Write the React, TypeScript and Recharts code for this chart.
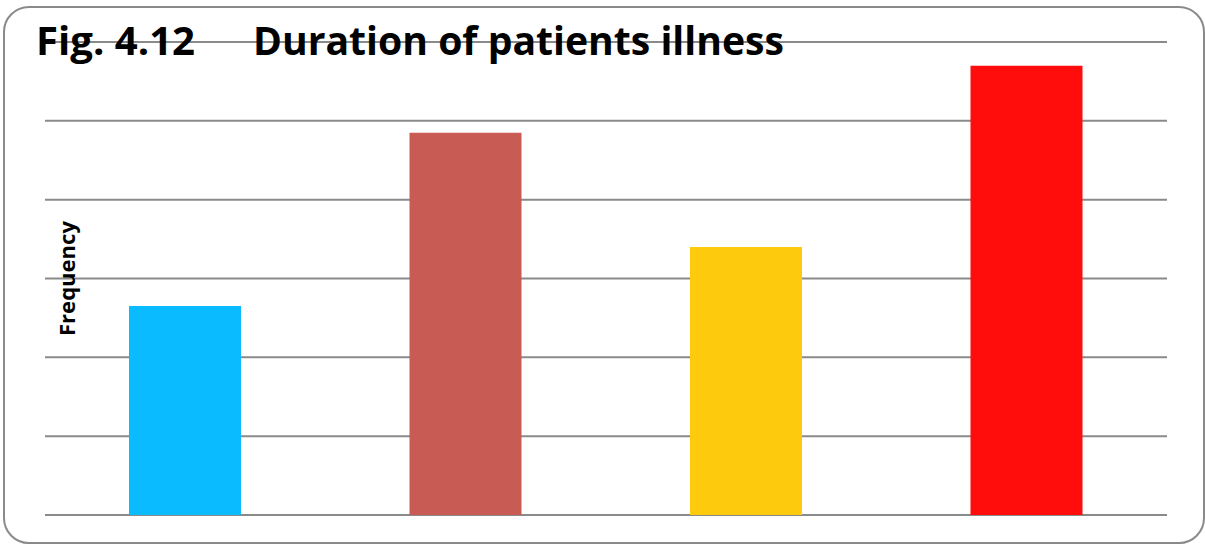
import React from 'react';
import { BarChart, Bar, XAxis, YAxis, CartesianGrid, Cell } from 'recharts';

// Duration categories and patient counts
const categories = ['< 1 month', '1–6 months', '6–12 months', '> 12 months'];
const frequencies = [53, 97, 68, 114];
const barColors = ['#0BBBFF', '#C95B55', '#FECA0E', '#FF0D0D'];
const yTicks = [0, 20, 40, 60, 80, 100, 120];

const titleFig = 'Fig. 4.12';
const titleText = 'Duration of patients illness';
const yLabel = 'Frequency';

const data = categories.map((c, i) => ({ duration: c, frequency: frequencies[i] }));

const W = 1205;
const H = 544;
const gridColor = '#8a8a8a';
const font = '"Open Sans", "Noto Sans", "DejaVu Sans", sans-serif';

const FrequencyLabel = (props: any) => {
  const vb = props.viewBox || { x: 0, y: 0, width: 0, height: 0 };
  const cx = vb.x + vb.width + 30;
  const cy = vb.y + vb.height / 2;
  return (
    <text
      x={cx}
      y={cy}
      transform={`rotate(-90, ${cx}, ${cy})`}
      textAnchor="middle"
      fontFamily={font}
      fontWeight={700}
      fontSize={21}
      fill="#000"
      textLength={115}
      lengthAdjust="spacingAndGlyphs"
    >
      {yLabel}
    </text>
  );
};

// Ticks are kept for the gridlines but their labels are not shown
const EmptyTick = () => <g />;

export default function App() {
  return (
    <div
      style={{
        position: 'fixed',
        left: 0,
        top: 0,
        width: W,
        height: H,
        overflow: 'hidden',
        background: '#fff',
      }}
    >
      <div
        style={{
          position: 'absolute',
          left: 3,
          top: 6,
          width: W - 3,
          height: H - 6,
          boxSizing: 'border-box',
          border: `2px solid ${gridColor}`,
          borderRadius: 26,
        }}
      />
      <div style={{ position: 'absolute', left: 0, top: 0 }}>
        <BarChart
          width={W}
          height={H}
          data={data}
          margin={{ top: 42, right: 38, bottom: 29, left: 44 }}
        >
          <CartesianGrid vertical={false} stroke={gridColor} strokeWidth={2} />
          <XAxis
            dataKey="duration"
            height={0}
            tick={false}
            tickLine={false}
            axisLine={{ stroke: gridColor, strokeWidth: 3 }}
          />
          <YAxis
            domain={[0, 120]}
            ticks={yTicks}
            interval={0}
            width={1}
            tick={<EmptyTick />}
            tickLine={false}
            axisLine={false}
            label={{ content: FrequencyLabel }}
          />
          <Bar dataKey="frequency" barSize={112} isAnimationActive={false}>
            {data.map((d, i) => (
              <Cell key={d.duration} fill={barColors[i]} />
            ))}
          </Bar>
        </BarChart>
      </div>
      <svg
        width={W}
        height={H}
        style={{ position: 'absolute', left: 0, top: 0, pointerEvents: 'none' }}
      >
        <text
          x={36}
          y={55}
          fontFamily={font}
          fontWeight={700}
          fontSize={40}
          fill="#000"
          textLength={159}
          lengthAdjust="spacingAndGlyphs"
        >
          {titleFig}
        </text>
        <text
          x={253}
          y={55}
          fontFamily={font}
          fontWeight={700}
          fontSize={40}
          fill="#000"
          textLength={531}
          lengthAdjust="spacingAndGlyphs"
        >
          {titleText}
        </text>
      </svg>
    </div>
  );
}
